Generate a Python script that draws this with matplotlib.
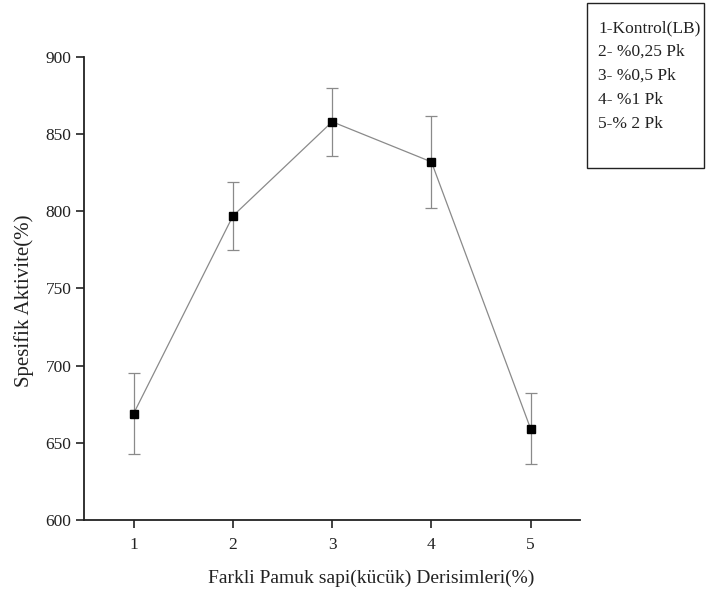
import matplotlib

matplotlib.use("Agg")
import matplotlib.pyplot as plt
from matplotlib.patches import Rectangle

plt.rcParams["font.family"] = ["Liberation Serif", "DejaVu Serif"]

# Values
groups = [1, 2, 3, 4, 5]
activity = [669, 797, 858, 832, 659]
activity_err = [26, 22, 22, 30, 23]
legend_lines = ["1-Kontrol(LB)", "2- %0,25 Pk", "3- %0,5 Pk", "4- %1 Pk", "5-% 2 Pk"]

fig = plt.figure(figsize=(7.06, 5.93), dpi=100)
fig.patch.set_facecolor("white")
ax = fig.add_axes([0.119, 0.123, 0.703, 0.781])

ax.errorbar(
    groups,
    activity,
    yerr=activity_err,
    color="#8a8a8a",
    linewidth=0.9,
    elinewidth=0.9,
    capsize=4,
    capthick=0.9,
    marker="s",
    markersize=6,
    markerfacecolor="black",
    markeredgecolor="black",
)

ax.set_xlim(0.5, 5.5)
ax.set_ylim(600, 900)
ax.set_xticks(groups)
ax.set_yticks([600, 650, 700, 750, 800, 850, 900])
ax.tick_params(direction="out", length=6, width=1.2, pad=3, labelsize=12.5, colors="#222222")
ax.tick_params(axis="x", pad=6)
for side in ["top", "right"]:
    ax.spines[side].set_visible(False)
for side in ["left", "bottom"]:
    ax.spines[side].set_linewidth(1.3)
    ax.spines[side].set_color("#222222")

ax.set_xlabel("Farkli Pamuk sapi(kücük) Derisimleri(%)", fontsize=14, color="#222222", va="center")
ax.set_ylabel("Spesifik Aktivite(%)", fontsize=15, color="#222222", va="center")
ax.xaxis.set_label_coords(0.578, -0.125)
ax.yaxis.set_label_coords(-0.12, 0.473)

# Legend box in the upper right corner
box = Rectangle((587 / 706, 1 - 168 / 593), 117 / 706, 165 / 593,
                transform=fig.transFigure, fill=False, edgecolor="#222222", linewidth=1.0)
fig.add_artist(box)
for i, line in enumerate(legend_lines):
    fig.text(598 / 706, 1 - (28 + 24 * i) / 593, line, fontsize=12.5,
             va="center", ha="left", color="#222222")

fig.savefig("out.png", dpi=100)
